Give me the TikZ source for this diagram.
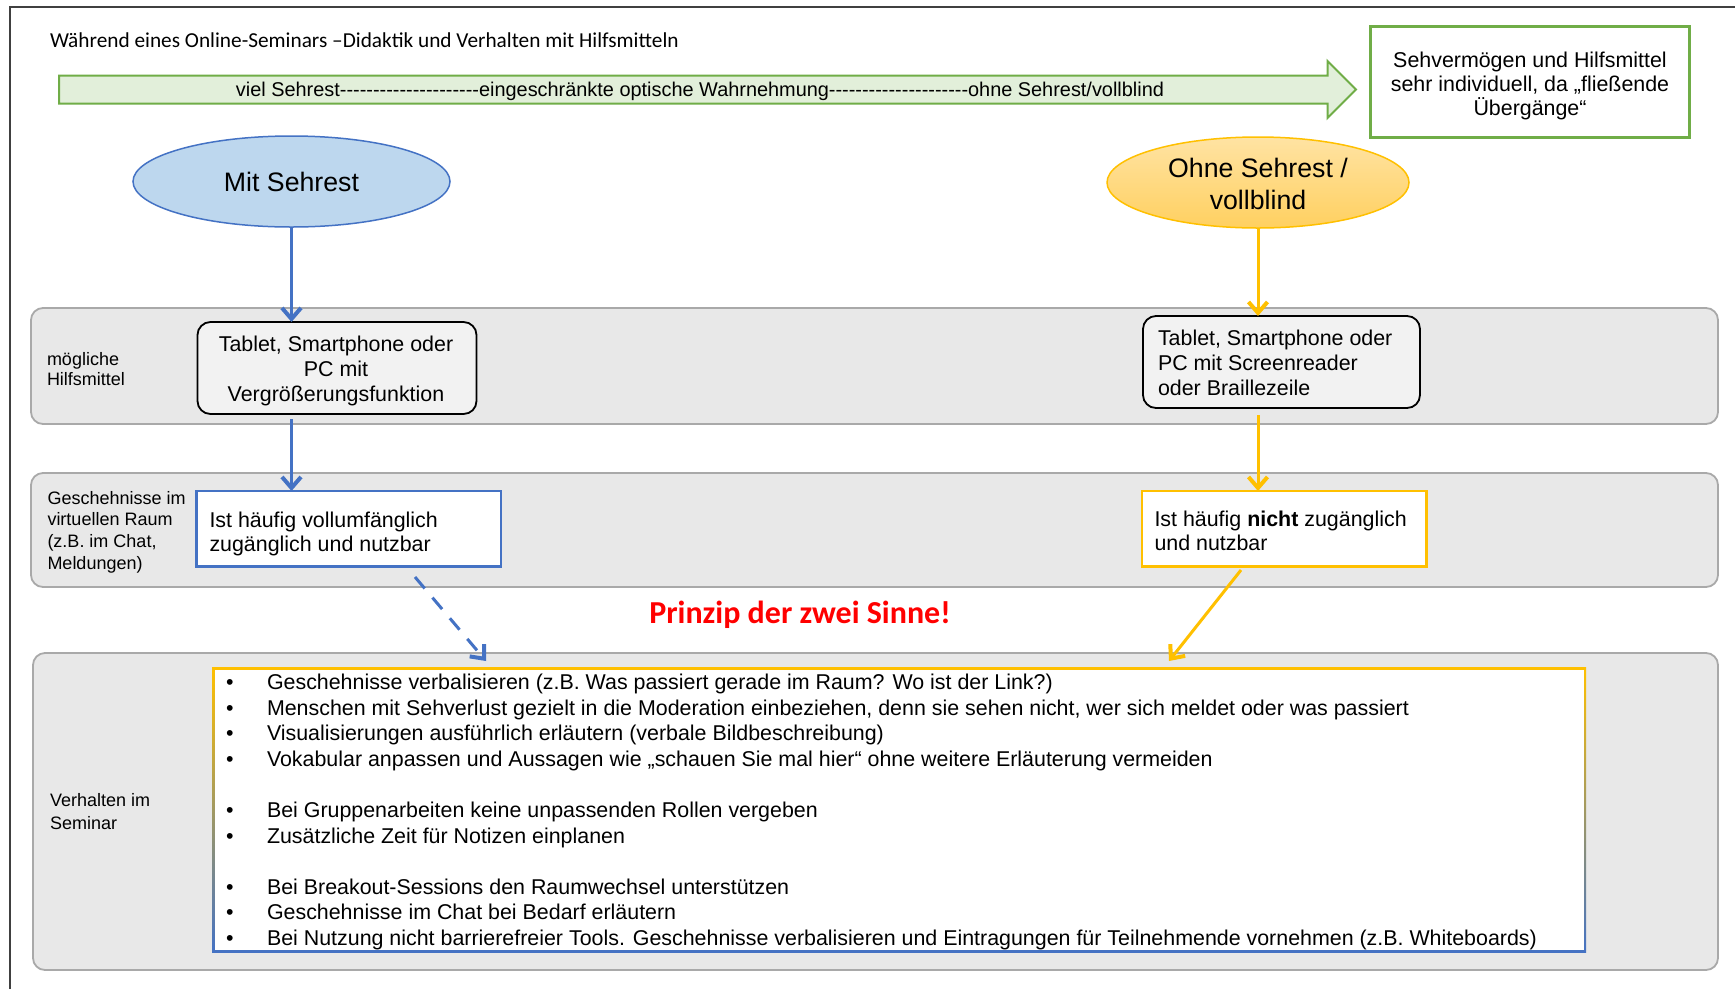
\documentclass[tikz,border=0pt]{standalone}
\usepackage{fontspec}
\setmainfont{Liberation Sans}
\newfontfamily\calib{Carlito}
\usetikzlibrary{arrows.meta,shapes.geometric,calc}

\definecolor{cBlue}{HTML}{4472C4}
\definecolor{cBlueFill}{HTML}{BDD7EE}
\definecolor{cOrange}{HTML}{FFC000}
\definecolor{cOrTop}{HTML}{FFE3A3}
\definecolor{cOrBot}{HTML}{FFD060}
\definecolor{cGreen}{HTML}{70AD47}
\definecolor{cGreenFill}{HTML}{E2EFDA}
\definecolor{cBand}{HTML}{E8E8E8}
\definecolor{cBandLine}{HTML}{A9A9A9}
\definecolor{cBox}{HTML}{F2F2F2}
\definecolor{cFrame}{HTML}{404040}
\definecolor{cRed}{HTML}{FF0000}

\newcommand\fmain{\fontsize{21.4}{24.6}\selectfont}
\newcommand\farr{\fontsize{19.9}{24}\selectfont}
\newcommand\fell{\fontsize{26.7}{31.6}\selectfont}
\newcommand\ftitle{\calib\fontsize{21.3}{25}\selectfont}
\newcommand\fprinz{\calib\bfseries\fontsize{32}{36}\selectfont}
\newcommand\hyph{\mbox{-}}
\newcommand\dashrun{\hyph\hyph\hyph\hyph\hyph\hyph\hyph\hyph\hyph\hyph\hyph\hyph\hyph\hyph\hyph\hyph\hyph\hyph\hyph\hyph\hyph}

\begin{document}
\begin{tikzpicture}[x=1pt,y=-1pt,
  shp/.style={inner sep=0pt, outer sep=0pt},
  band/.style={shp, draw=cBandLine, fill=cBand, line width=1.8pt, rounded corners=12pt},
  greybox/.style={shp, draw=black, fill=cBox, line width=1.8pt, rounded corners=13pt},
  plainbox/.style={shp, fill=white, line width=2.5pt},
  txtl/.style={inner sep=0pt, outer sep=0pt, anchor=base west, align=left},
  txtc/.style={inner sep=0pt, outer sep=0pt, anchor=base, align=center},
  barrow/.style={draw=cBlue, line width=3pt, -{Straight Barb[length=11pt,width=19pt,line width=4pt]}},
  oarrow/.style={draw=cOrange, line width=3pt, -{Straight Barb[length=11pt,width=19pt,line width=4pt]}}
]
\useasboundingbox (0,0) rectangle (1735,989);
\fill[white] (0,0) rectangle (1735,989);

% outer frame
\draw[cFrame, line width=2pt] (10,989) -- (10,7) -- (1735,7);

% title
\node[txtl, font=\ftitle] (title) at (50,47) {Während eines Online-Seminars –Didaktik und Verhalten mit Hilfsmitteln};

% green arrow
\draw[cGreen, fill=cGreenFill, line width=2pt]
  (59,75.5) -- (1327.5,75.5) -- (1327.5,61) -- (1356,89.5) -- (1327.5,118) -- (1327.5,103.5) -- (59,103.5) -- cycle;
\node[txtc, font=\farr] (arrtxt) at (700,96) {viel Sehrest\dashrun eingeschränkte optische Wahrnehmung\dashrun ohne Sehrest/vollblind};

% green box
\node[shp, draw=cGreen, fill=white, line width=2.5pt, minimum width=319, minimum height=111] (gbox) at (1530.2,82.2) {};
\node[txtc, font={\fontsize{21.4}{24.3}\selectfont}] (gboxt) at (1530,115.8) {Sehvermögen und Hilfsmittel\\sehr individuell, da „fließende\\Übergänge“};

% bands
\node[band, minimum width=1687, minimum height=116] (band1) at (874.5,366) {};
\node[band, minimum width=1687, minimum height=114] (band2) at (874.5,530) {};
\node[band, minimum width=1685, minimum height=317] (band3) at (875.5,811.5) {};

\node[txtl, font={\fontsize{18}{20.7}\selectfont}] (lab1) at (47,385.7) {mögliche\\Hilfsmittel};
\node[txtl, font={\fontsize{18}{21.7}\selectfont}] (lab2) at (47.5,569.1) {Geschehnisse im\\virtuellen Raum\\(z.B. im Chat,\\Meldungen)};
\node[txtl, font={\fontsize{18}{22.3}\selectfont}] (lab3) at (50,829) {Verhalten im\\Seminar};

% ellipses
\node[ellipse, shp, draw=cBlue, fill=cBlueFill, line width=1.5pt, minimum width=317, minimum height=91] (bell) at (291.5,181.5) {};
\node[txtc, font=\fell] (bellt) at (291.5,191) {Mit Sehrest};
\node[ellipse, shp, draw=cOrange, top color=cOrTop, bottom color=cOrBot, line width=1.5pt, minimum width=302, minimum height=91] (oell) at (1258,182.5) {};
\node[txtc, font=\fell] (oellt) at (1258,209) {Ohne Sehrest /\\vollblind};

% row 1 boxes
\node[greybox, minimum width=279, minimum height=92] (box1) at (337,368) {};
\node[txtc, font={\fontsize{21.4}{25}\selectfont}] (box1t) at (336,401.5) {Tablet, Smartphone oder\\PC mit\\Vergrößerungsfunktion};
\node[greybox, minimum width=277, minimum height=92] (box2) at (1281.5,362) {};
\node[txtl, font={\fontsize{21.4}{24.7}\selectfont}] (box2t) at (1158,395) {Tablet, Smartphone oder\\PC mit Screenreader\\oder Braillezeile};

% row 2 boxes
\node[plainbox, draw=cBlue, minimum width=304.5, minimum height=75.7] (box3) at (348.75,528.85) {};
\node[txtl, font={\fontsize{21.4}{24}\selectfont}] (box3t) at (209.5,551.3) {Ist häufig vollumfänglich\\zugänglich und nutzbar};
\node[plainbox, draw=cOrange, minimum width=284.6, minimum height=75.7] (box4) at (1284.3,528.85) {};
\node[txtl, font={\fontsize{21.4}{24.3}\selectfont}] (box4t) at (1154.5,550.6) {Ist häufig \textbf{nicht} zugänglich\\und nutzbar};

% principle
\node[txtc, font=\fprinz, text=cRed] (prinz) at (800,623.5) {Prinzip der zwei Sinne!};

% big box with gradient border
\node[shp, top color=cOrange, bottom color=cBlue, minimum width=1374, minimum height=285.5] (bigbox) at (899,809.75) {};
\fill[white] ($(bigbox.north west)+(2.5,2.5)$) rectangle ($(bigbox.south east)+(-2.5,-2.5)$);

\foreach \yy/\tx [count=\i] in {
  689.5/{Geschehnisse verbalisieren (z.B. Was passiert gerade im Raum? Wo ist der Link?)},
  715.1/{Menschen mit Sehverlust gezielt in die Moderation einbeziehen, denn sie sehen nicht, wer sich meldet oder was passiert},
  740.7/{Visualisierungen ausführlich erläutern (verbale Bildbeschreibung)},
  766.3/{Vokabular anpassen und Aussagen wie „schauen Sie mal hier“ ohne weitere Erläuterung vermeiden},
  817.5/{Bei Gruppenarbeiten keine unpassenden Rollen vergeben},
  843.1/{Zusätzliche Zeit für Notizen einplanen},
  894.3/{Bei Breakout-Sessions den Raumwechsel unterstützen},
  919.9/{Geschehnisse im Chat bei Bedarf erläutern},
  945.5/{Bei Nutzung nicht barrierefreier Tools. Geschehnisse verbalisieren und Eintragungen für Teilnehmende vornehmen (z.B. Whiteboards)}} {
  \node[txtl, font=\fmain] (bu\i) at (226,\yy) {•};
  \node[txtl, font=\fmain] (bt\i) at (267,\yy) {\tx};
}

% connectors
\draw[barrow] (bell.south) -- (bell.south |- box1.north);
\draw[barrow, shorten <=5pt] (bell.south |- box1.south) -- (bell.south |- box3.north);
\draw[oarrow] (oell.south) -- (oell.south |- box2.north);
\draw[oarrow, shorten <=7pt] (oell.south |- box2.south) -- (oell.south |- box4.north);

\coordinate (dA) at (415,577);
\coordinate (dB) at (486,661);
\draw[barrow, dash pattern=on 15pt off 12pt] (dA) -- (dB);
\coordinate (oA) at (1241,570);
\coordinate (oB) at (1169,661);
\draw[oarrow] (oA) -- (oB);
\end{tikzpicture}
\end{document}
